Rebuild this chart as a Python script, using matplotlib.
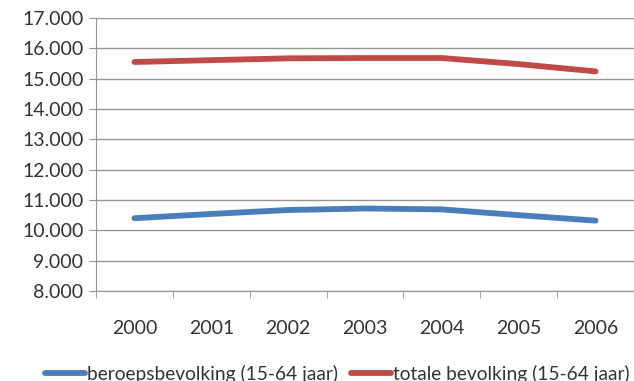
import numpy as np
import matplotlib.pyplot as plt
from matplotlib.ticker import FuncFormatter, MultipleLocator

years = [2000, 2001, 2002, 2003, 2004, 2005, 2006]
beroeps = [10400, 10540, 10670, 10720, 10690, 10500, 10320]
totaal = [15550, 15610, 15670, 15680, 15680, 15480, 15240]
labels = ['beroepsbevolking (15-64 jaar)', 'totale bevolking (15-64 jaar)']

plt.rcParams['font.family'] = ['Lato', 'DejaVu Sans']

fig = plt.figure(figsize=(6.34, 3.81), dpi=100)
ax = fig.add_axes([96/634, 1 - 291/381, 1 - 96/634, (291 - 18)/381])

ax.plot(years, beroeps, color='#4A7EBB', lw=4.2, solid_capstyle='round', label=labels[0])
ax.plot(years, totaal, color='#BE4B48', lw=4.2, solid_capstyle='round', label=labels[1])

ax.set_xlim(1999.5, 2006.33)
ax.set_ylim(8000, 17000)
ax.yaxis.set_major_locator(MultipleLocator(1000))
ax.yaxis.set_major_formatter(FuncFormatter(lambda v, p: f'{v/1000:.3f}'))
ax.grid(axis='y', color='#959595', lw=1)
ax.set_axisbelow(True)

ax.set_xticks(years)
ax.set_xticks(np.arange(1999.5, 2006.6, 1), minor=True)
ax.tick_params(axis='x', which='major', length=0, pad=21, labelsize=14, labelcolor='#333333')
ax.tick_params(axis='x', which='minor', length=5, color='#959595')
ax.tick_params(axis='y', length=5, color='#959595', labelsize=14, labelcolor='#333333', pad=4)

for s in ['top', 'right']:
    ax.spines[s].set_visible(False)
for s in ['left', 'bottom']:
    ax.spines[s].set_color('#959595')

fig.legend(loc='center', bbox_to_anchor=(0.532, 1 - 374/381), ncol=2, frameon=False,
           fontsize=13.8, handlelength=2.1, handletextpad=0.1, columnspacing=0.7,
           labelcolor='#333333')

fig.savefig('out.png', dpi=100)
